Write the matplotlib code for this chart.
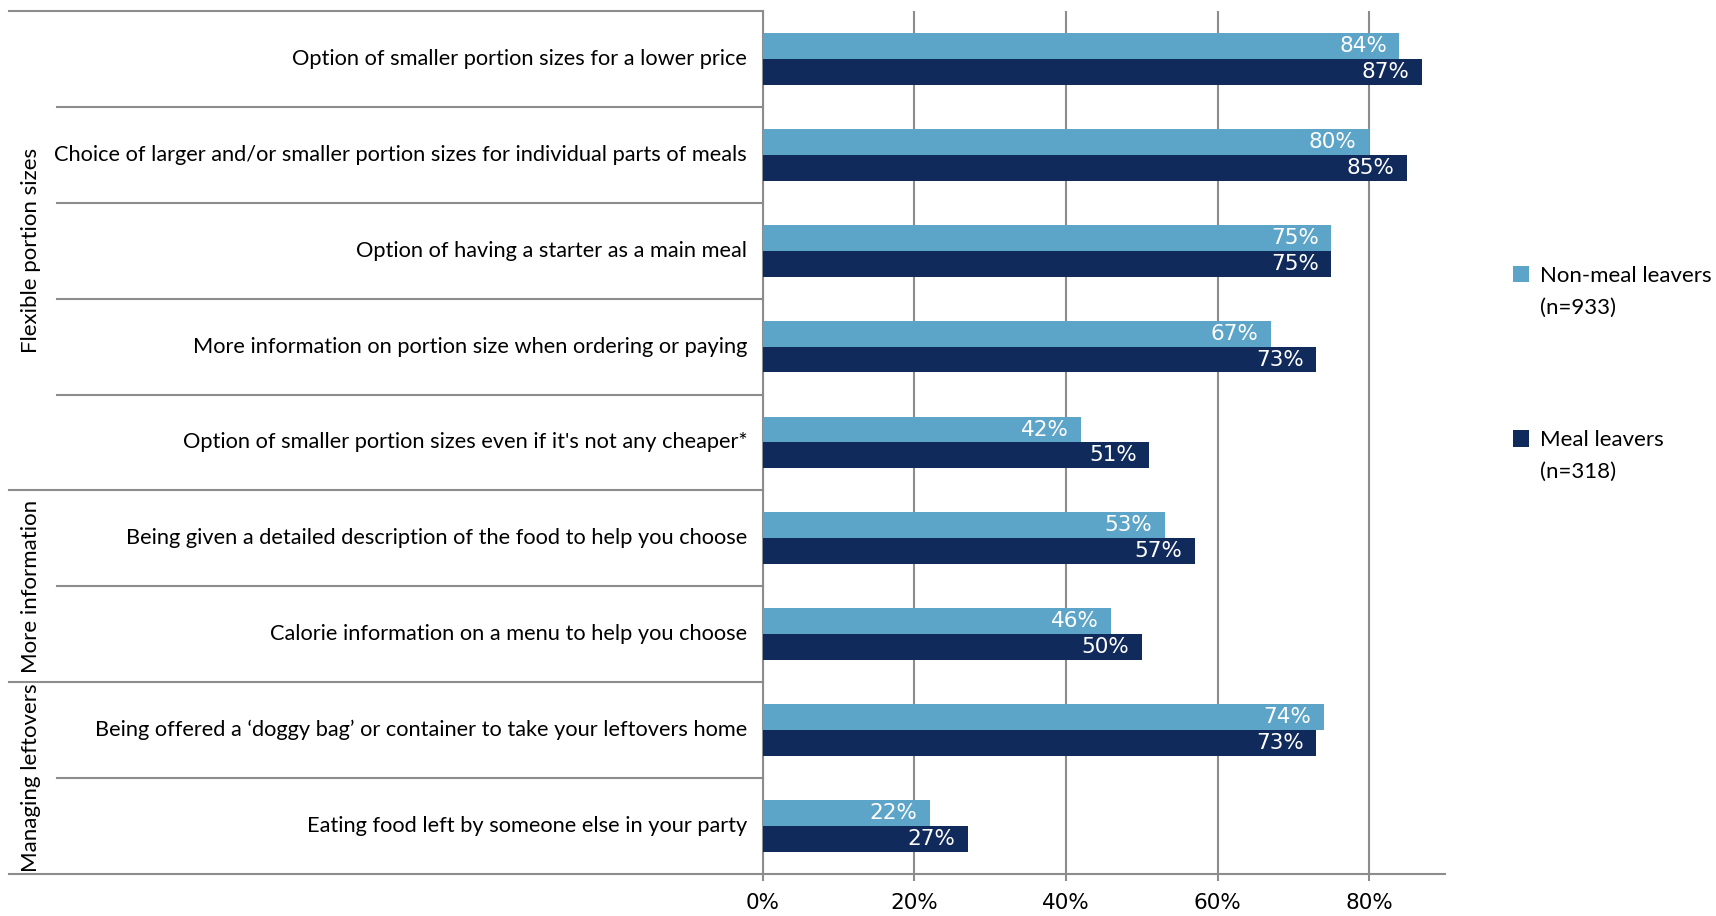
import matplotlib.pyplot as plt
import numpy as np

# ====== DATOS ======
categorias = [
    "Option of smaller portion sizes for a lower price",
    "Choice of larger and/or smaller portion sizes for individual parts of meals",
    "Option of having a starter as a main meal",
    "More information on portion size when ordering or paying",
    "Option of smaller portion sizes even if it's not any cheaper*",
    "Being given a detailed description of the food to help you choose",
    "Calorie information on a menu to help you choose",
    "Being offered a \u2018doggy bag\u2019 or container to take your leftovers home",
    "Eating food left by someone else in your party",
]
no_dejan = [84, 80, 75, 67, 42, 53, 46, 74, 22]
dejan = [87, 85, 75, 73, 51, 57, 50, 73, 27]
grupos = ["Flexible portion sizes", "More information", "Managing leftovers"]
tam_grupos = [5, 2, 2]
etiquetas_x = ["0%", "20%", "40%", "60%", "80%"]
serie_1, n_1 = "Non-meal leavers", "(n=933)"
serie_2, n_2 = "Meal leavers", "(n=318)"

color_claro = "#5DA4C9"
color_oscuro = "#112A5C"
gris = "#8C8C8C"
fuente = ["Lato", "DejaVu Sans"]
fuente_num = ["Liberation Sans Narrow", "DejaVu Sans"]

# ====== GRAFICAR ======
fig = plt.figure(figsize=(17.16, 9.16), dpi=100)
ax = fig.add_axes([0.4446, 0.0459, 0.842 - 0.4446, 0.988 - 0.0459])

y = np.arange(len(categorias))
alto = 0.27
b1 = ax.barh(y - alto / 2, no_dejan, height=alto, color=color_claro, label=serie_1, zorder=3)
b2 = ax.barh(y + alto / 2, dejan, height=alto, color=color_oscuro, label=serie_2, zorder=3)

for barras, valores in ((b1, no_dejan), (b2, dejan)):
    for barra, v in zip(barras, valores):
        ax.annotate(f"{v}%", (v, barra.get_y() + barra.get_height() / 2),
                    xytext=(-9, 0), textcoords="offset points", ha="right", va="center",
                    color="white", fontsize=15.5, family=fuente_num, zorder=4)

ax.set_xlim(0, 90)
ax.set_ylim(len(categorias) - 0.5, -0.5)
ax.set_xticks([0, 20, 40, 60, 80])
ax.set_xticklabels(etiquetas_x, family=fuente_num, fontsize=15.5)
ax.tick_params(axis="x", length=5, color=gris, width=1.5, pad=9)
ax.set_yticks([])
ax.grid(axis="x", color=gris, linewidth=1.5, zorder=0)

for lado in ("top", "right"):
    ax.spines[lado].set_visible(False)
for lado in ("left", "bottom"):
    ax.spines[lado].set_color(gris)
    ax.spines[lado].set_linewidth(1.5)

# etiquetas de categorias
tr = ax.get_yaxis_transform()
for i, texto in enumerate(categorias):
    ax.text(-0.023, i, texto, transform=tr, ha="right", va="center",
            fontsize=15.7, family=fuente)

# separadores entre categorias y entre grupos
limites_grupo = np.cumsum([0] + tam_grupos)
for k in range(len(categorias) + 1):
    pos = k - 0.5
    x0 = -1.106 if k in limites_grupo else -1.035
    ax.plot([x0, 0], [pos, pos], transform=tr, color=gris, linewidth=1.5,
            clip_on=False, zorder=1)

for nombre, ini, n in zip(grupos, limites_grupo[:-1], tam_grupos):
    centro = ini + (n - 1) / 2
    ax.text(-1.073, centro, nombre, transform=tr, rotation=90, ha="center",
            va="center", fontsize=16, family=fuente)

# leyenda: nombre de la serie en una linea y el tamaño de muestra debajo
leg = ax.legend(loc="center left", bbox_to_anchor=(1.07, 0.598), frameon=False,
                handlelength=0.75, handleheight=0.75, handletextpad=0.5,
                labelspacing=6.5, prop={"family": fuente, "size": 16})
# zorder alto para que se dibuje despues de la leyenda
for t, n in zip(leg.get_texts(), (n_1, n_2)):
    ax.annotate(n, xy=(0, 0.5), xycoords=t, xytext=(0, -23), textcoords="offset points",
                ha="left", va="center", fontsize=16, family=fuente, zorder=10)

fig.savefig("out.png", dpi=100)
